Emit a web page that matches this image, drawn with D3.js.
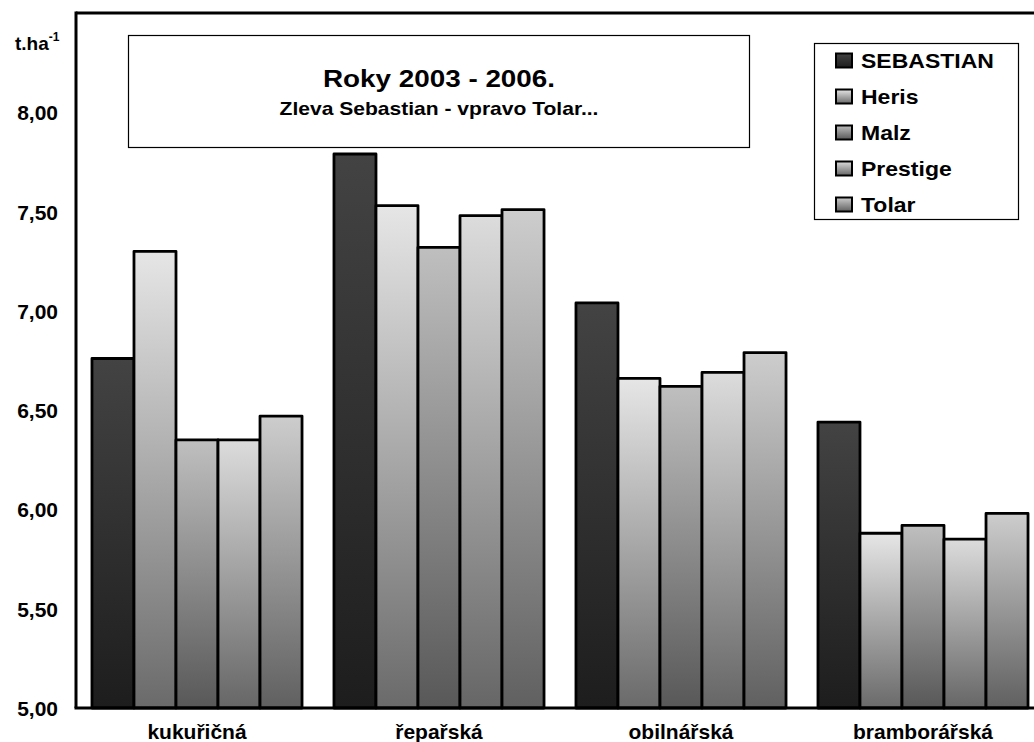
<!DOCTYPE html>
<html><head><meta charset="utf-8">
<script src="https://cdn.jsdelivr.net/npm/d3@7"></script>
<style>html,body{margin:0;padding:0;background:#fff;overflow:hidden}text{font-family:"Liberation Sans",Arial,sans-serif;font-weight:bold;fill:#000}</style>
</head><body><svg id="c" width="1034" height="742"></svg>
<script>
const categories = ["kukuřičná", "řepařská", "obilnářská", "bramborářská"];
const seriesNames = ["SEBASTIAN", "Heris", "Malz", "Prestige", "Tolar"];
const SEBASTIAN = [6.76, 7.79, 7.04, 6.44];
const Heris     = [7.30, 7.53, 6.66, 5.88];
const Malz      = [6.35, 7.32, 6.62, 5.92];
const Prestige  = [6.35, 7.48, 6.69, 5.85];
const Tolar     = [6.47, 7.51, 6.79, 5.98];
const yTicks = [5.0, 5.5, 6.0, 6.5, 7.0, 7.5, 8.0];
const seriesValues = [SEBASTIAN, Heris, Malz, Prestige, Tolar];
const gradTop = ["#434343", "#e6e6e6", "#bfbfbf", "#dcdcdc", "#cdcdcd"];
const gradBot = ["#1d1d1d", "#6a6a6a", "#585858", "#666666", "#606060"];

const svg = d3.select("#c");
const L = 76, R = 1044, T = 13, B = 708;
const x0 = d3.scaleBand().domain(categories).range([L, R]).paddingInner(0.132).paddingOuter(0.066);
const x1 = d3.scaleBand().domain(seriesNames).range([0, x0.bandwidth()]);
const y = d3.scaleLinear().domain([5, 8.5]).range([B, T]);

const defs = svg.append("defs");
seriesNames.forEach((s, i) => {
  const g = defs.append("linearGradient").attr("id", "g" + i).attr("x1", 0).attr("y1", 0).attr("x2", 0).attr("y2", 1);
  g.append("stop").attr("offset", "0%").attr("stop-color", gradTop[i]);
  g.append("stop").attr("offset", "100%").attr("stop-color", gradBot[i]);
});

// bars
const groups = svg.append("g").selectAll("g").data(categories).join("g")
  .attr("transform", d => `translate(${x0(d)},0)`);
groups.selectAll("rect").data((c, ci) => seriesNames.map((s, si) => ({s, si, v: seriesValues[si][ci]})))
  .join("rect")
  .attr("x", d => x1(d.s))
  .attr("width", x1.bandwidth())
  .attr("y", d => y(d.v))
  .attr("height", d => B - y(d.v))
  .attr("fill", d => `url(#g${d.si})`)
  .attr("stroke", "#000").attr("stroke-width", 2.8).attr("stroke-linejoin", "round");

// frame lines
svg.append("line").attr("x1", L).attr("x2", 1034).attr("y1", T).attr("y2", T).attr("stroke", "#000").attr("stroke-width", 3);
const yAxis = d3.axisLeft(y).tickValues(yTicks).tickSize(0).tickPadding(18).tickFormat(d => d3.format(".2f")(d).replace(".", ","));
const ya = svg.append("g").attr("transform", `translate(${L},0)`).call(yAxis);
ya.select(".domain").attr("stroke", "#000").attr("stroke-width", 3).attr("d", `M0,${T - 1.5}V${B}`);
ya.selectAll("text").attr("font-size", 21).attr("dy", "0.36em").style("font-family", '"Liberation Sans",Arial,sans-serif').style("font-weight", "bold");

const xAxis = d3.axisBottom(x0).tickSize(0).tickPadding(0);
const xa = svg.append("g").attr("transform", `translate(0,${B})`).call(xAxis);
xa.select(".domain").attr("stroke", "#000").attr("stroke-width", 3).attr("d", `M${L - 1.5},0H1034`);
xa.selectAll("text").attr("font-size", 21).attr("y", 31).attr("dy", 0).style("font-family", '"Liberation Sans",Arial,sans-serif').style("font-weight", "bold");

// unit label
const u = svg.append("text").attr("x", 15).attr("y", 50).attr("font-size", 19);
u.append("tspan").text("t.ha");
u.append("tspan").attr("font-size", 12).attr("dy", -9).text("-1");

// title box
svg.append("rect").attr("x", 128.5).attr("y", 35.5).attr("width", 621).attr("height", 112).attr("fill", "#fff").attr("stroke", "#000").attr("stroke-width", 1.2);
svg.append("text").attr("transform", "translate(439,87) scale(1.16,1)").attr("text-anchor", "middle").attr("font-size", 24).text("Roky 2003 - 2006.");
svg.append("text").attr("transform", "translate(439,115) scale(1.17,1)").attr("text-anchor", "middle").attr("font-size", 18).text("Zleva Sebastian - vpravo Tolar...");

// legend
const lg = svg.append("g");
lg.append("rect").attr("x", 814.5).attr("y", 43.5).attr("width", 204).attr("height", 176).attr("fill", "#fff").attr("stroke", "#000").attr("stroke-width", 1.2);
const items = lg.selectAll("g.it").data(seriesNames).join("g").attr("class", "it")
  .attr("transform", (d, i) => `translate(0,${60.5 + i * 36})`);
items.append("rect").attr("x", 836).attr("y", -7).attr("width", 16).attr("height", 14)
  .attr("fill", (d, i) => `url(#g${i})`).attr("stroke", "#000").attr("stroke-width", 2);
items.append("text").attr("transform", "translate(861,7.5) scale(1.15,1)").attr("font-size", 20).text(d => d);
</script></body></html>
